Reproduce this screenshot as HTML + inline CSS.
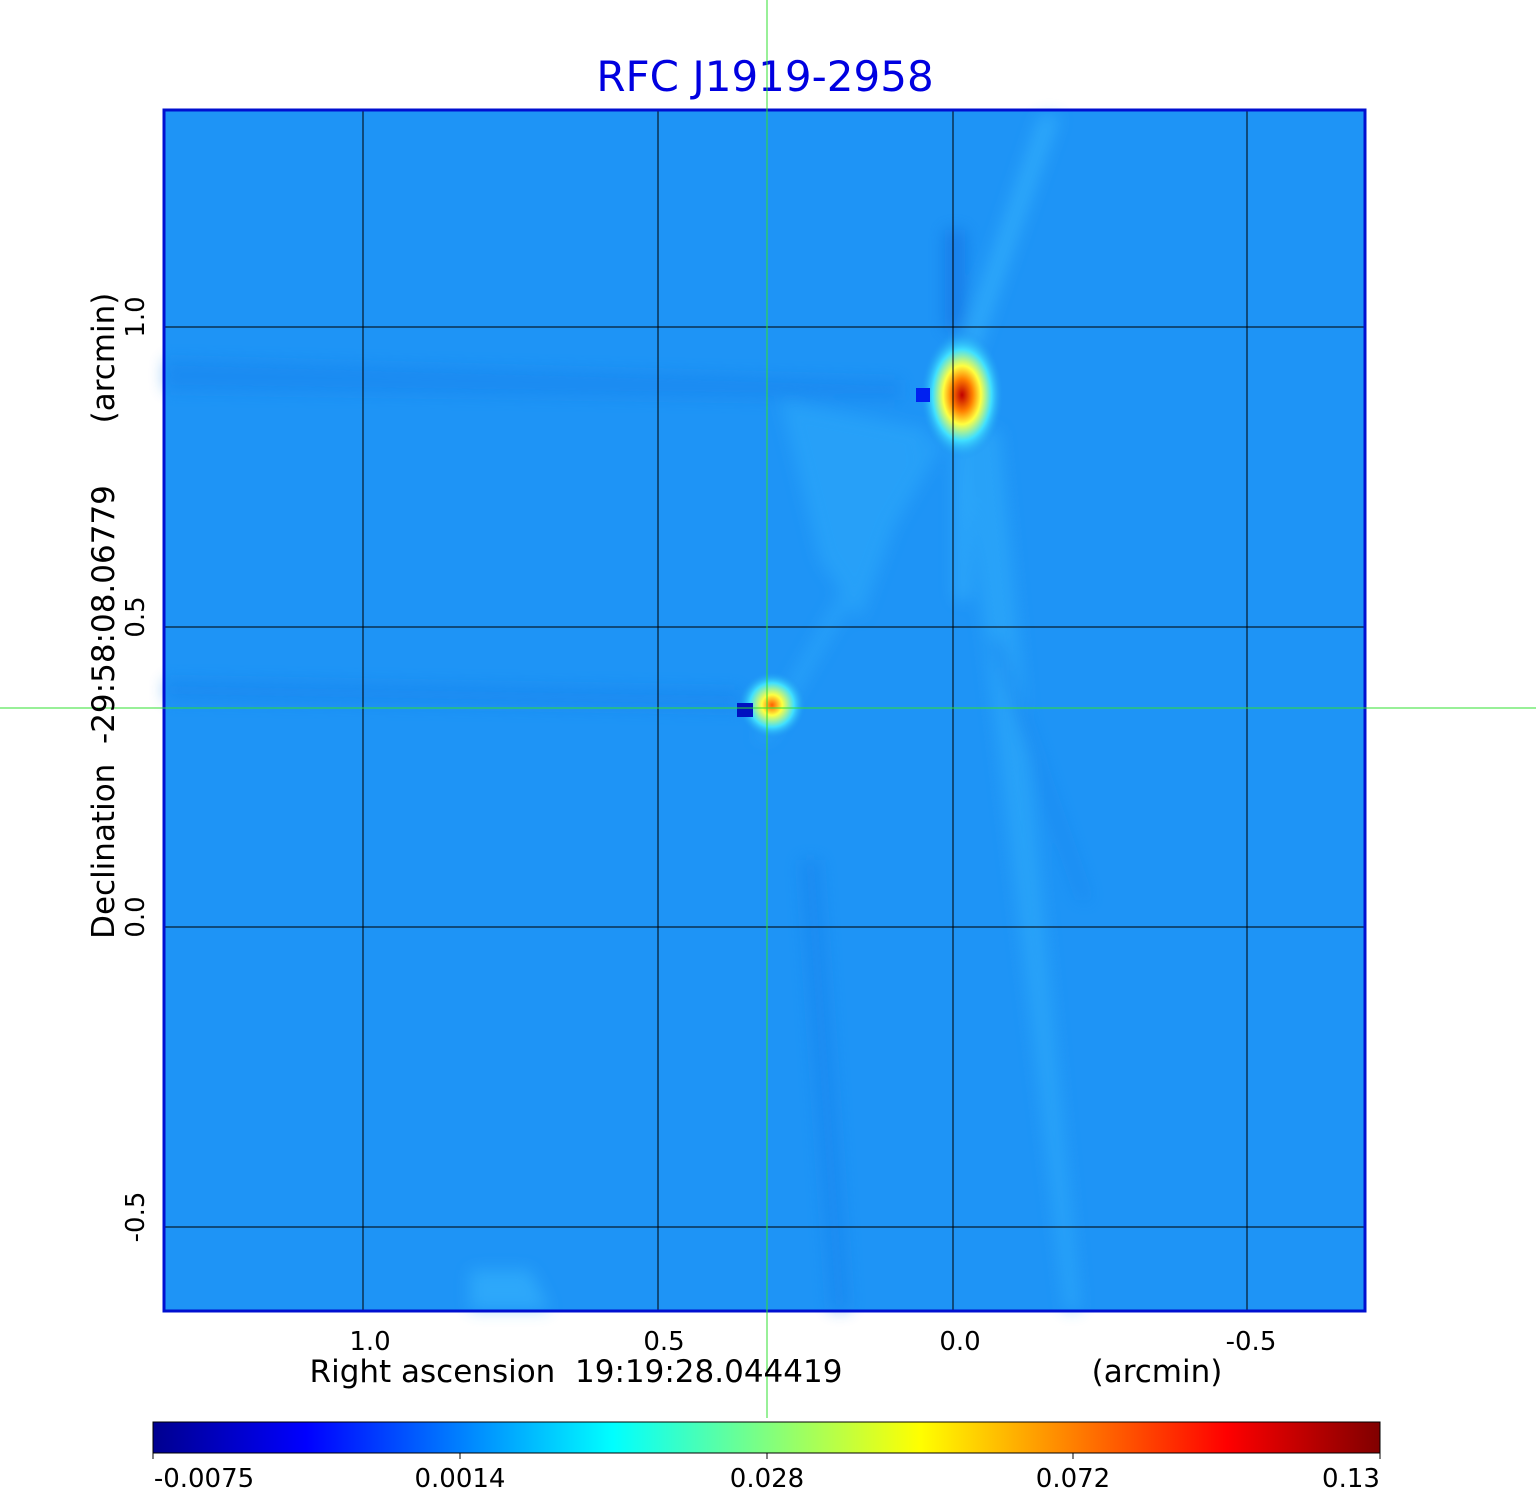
<!DOCTYPE html>
<html><head><style>body{margin:0;background:#fff}svg{display:block}text{font-family:"DejaVu Sans","Liberation Sans",sans-serif;white-space:pre}</style></head>
<body>
<svg width="1536" height="1511" viewBox="0 0 1536 1511" xmlns="http://www.w3.org/2000/svg" xml:space="preserve">
<defs>
<radialGradient id="s1" cx="0.5" cy="0.5" r="0.5">
<stop offset="0" stop-color="#c00000"/><stop offset="0.25" stop-color="#ff8000"/><stop offset="0.45" stop-color="#ffff40"/><stop offset="0.7" stop-color="#40e0ff"/><stop offset="1" stop-color="#1a90f0" stop-opacity="0"/></radialGradient>
<radialGradient id="s2" cx="0.5" cy="0.5" r="0.5">
<stop offset="0" stop-color="#ff6000"/><stop offset="0.3" stop-color="#ffff40"/><stop offset="0.65" stop-color="#40e0ff"/><stop offset="1" stop-color="#1a90f0" stop-opacity="0"/></radialGradient>
<linearGradient id="cb" x1="0" x2="1">
<stop offset="0" stop-color="#00008f"/><stop offset="0.125" stop-color="#0000ff"/><stop offset="0.375" stop-color="#00ffff"/><stop offset="0.625" stop-color="#ffff00"/><stop offset="0.875" stop-color="#ff0000"/><stop offset="1" stop-color="#800000"/></linearGradient>
<filter id="bl"><feGaussianBlur stdDeviation="8"/></filter>
</defs>
<text x="765" y="91" font-size="42" fill="#0000e0" text-anchor="middle">RFC J1919-2958</text>
<rect x="164" y="110" width="1201" height="1201" fill="#1e94f6"/>
<g filter="url(#bl)" opacity="0.45">
<polygon points="1040,115 1060,115 975,360 955,360" fill="#3fc0ff"/>
<polygon points="780,400 930,430 860,620 820,560" fill="#30b0fc"/>
<polygon points="955,420 968,420 970,600 955,600" fill="#3fc0ff"/>
<polygon points="960,430 1000,430 1080,1310 1065,1310" fill="#35b4fc"/>
<polygon points="930,440 945,440 770,740 755,740" fill="#30b0fc"/>
<polygon points="165,360 900,380 900,400 165,390" fill="#1580ec"/>
<polygon points="165,680 740,690 740,710 165,700" fill="#1580ec"/>
<polygon points="990,640 1000,640 1090,900 1080,900" fill="#1580ec"/>
<polygon points="945,230 965,230 965,330 945,330" fill="#0860d8"/>
<polygon points="800,860 820,860 850,1310 830,1310" fill="#1580ec"/>
<polygon points="470,1270 530,1270 550,1310 470,1310" fill="#40c0ff"/>
</g>
<ellipse cx="962" cy="395" rx="42" ry="65" fill="url(#s1)"/>
<rect x="916" y="388" width="14" height="14" fill="#0020f0"/>
<ellipse cx="772" cy="705" rx="34" ry="34" fill="url(#s2)"/>
<rect x="737" y="703" width="16" height="14" fill="#0010c0"/>
<g stroke="#000" stroke-width="1">
<line x1="363" y1="110" x2="363" y2="1311"/><line x1="658" y1="110" x2="658" y2="1311"/><line x1="953" y1="110" x2="953" y2="1311"/><line x1="1247" y1="110" x2="1247" y2="1311"/>
<line x1="164" y1="327" x2="1365" y2="327"/><line x1="164" y1="627" x2="1365" y2="627"/><line x1="164" y1="927" x2="1365" y2="927"/><line x1="164" y1="1227" x2="1365" y2="1227"/>
</g>
<rect x="164" y="110" width="1201" height="1201" fill="none" stroke="#0010d0" stroke-width="3"/>
<line x1="767" y1="0" x2="767" y2="1418" stroke="#30e030" stroke-width="1"/>
<line x1="0" y1="708" x2="1536" y2="708" stroke="#30e030" stroke-width="1"/>
<g font-size="26" fill="#000" text-anchor="middle">
<text x="370" y="1350">1.0</text><text x="664" y="1350">0.5</text><text x="960" y="1350">0.0</text><text x="1251" y="1350">-0.5</text>
</g>
<text x="576" y="1382" font-size="31" text-anchor="middle">Right ascension  19:19:28.044419</text>
<text x="1157" y="1382" font-size="31" text-anchor="middle">(arcmin)</text>
<g font-size="26" text-anchor="middle">
<text transform="translate(144,317) rotate(-90)">1.0</text>
<text transform="translate(144,617) rotate(-90)">0.5</text>
<text transform="translate(144,917) rotate(-90)">0.0</text>
<text transform="translate(144,1217) rotate(-90)">-0.5</text>
</g>
<text transform="translate(114,712) rotate(-90)" font-size="31" text-anchor="middle">Declination  -29:58:08.06779</text>
<text transform="translate(114,358) rotate(-90)" font-size="31" text-anchor="middle">(arcmin)</text>
<rect x="153" y="1422" width="1227" height="31" fill="url(#cb)" stroke="#000" stroke-width="1"/>
<g stroke="#000"><line x1="153" y1="1453" x2="153" y2="1459"/><line x1="460" y1="1453" x2="460" y2="1459"/><line x1="767" y1="1453" x2="767" y2="1459"/><line x1="1073" y1="1453" x2="1073" y2="1459"/><line x1="1380" y1="1453" x2="1380" y2="1459"/></g>
<g font-size="26" text-anchor="middle">
<text x="204" y="1487">-0.0075</text><text x="460" y="1487">0.0014</text><text x="767" y="1487">0.028</text><text x="1073" y="1487">0.072</text><text x="1351" y="1487">0.13</text>
</g>
</svg>
</body></html>
